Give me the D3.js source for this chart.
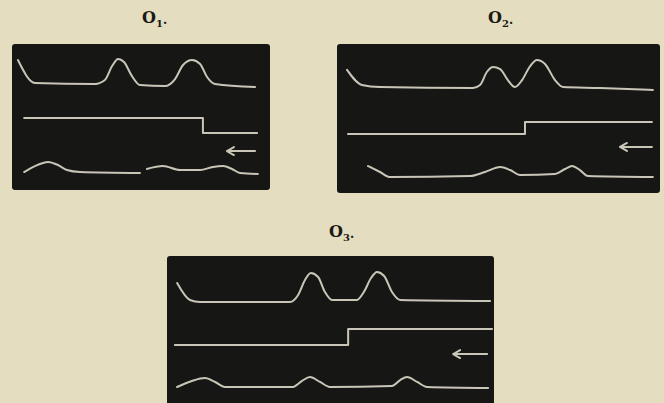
<!DOCTYPE html>
<html>
<head>
<meta charset="utf-8">
<script src="https://cdn.jsdelivr.net/npm/d3@7"></script>
<style>
  body { margin: 0; background: #e4ddbf; }
  svg { display: block; }
  .trace { fill: none; stroke: #c9c6b8; stroke-width: 2; stroke-linejoin: round; stroke-linecap: round; }
  .title { font-family: "DejaVu Serif", "Liberation Serif", serif; font-weight: bold; fill: #1a1a16; }
</style>
</head>
<body>
<div class="container"></div>
<script>
// each record: [time, level] in panel units (0..100 across, 0..100 up)
var o1Top = [[2.3,89],[8.9,73.3],[32.2,72.6],[36,75.3],[38.8,84.9],[41.1,89.7],[43.4,87.7],[46.5,78],[49.6,71.9],[59.3,71.2],[63.2,76],[66.3,85.6],[69.8,89],[72.9,86.3],[75.6,77.4],[78.7,72.6],[94.2,70.5]];
var o1Mid = [[4.7,49.3],[74,49.3],[74,39],[95,39]];
var o1BotA = [[4.7,12.3],[8.9,16.4],[14,19.2],[17.8,17.1],[21.3,13.7],[26.4,12.3],[49.6,11.6]];
var o1BotB = [[52.3,14.4],[58.5,16.4],[65.1,13.7],[72.9,13.7],[77.9,15.8],[81.8,16.4],[85.3,14.4],[88.4,11.6],[95.3,11]];
var o1Arrow = [83.3, 94.2, 26.7];

var o2Top = [[3.1,82.6],[7.7,72.5],[13.3,71.1],[42.1,70.5],[44.3,72.5],[46.4,81.2],[48.3,84.6],[50.5,83.2],[52.9,75.8],[55.1,71.1],[57.3,75.8],[59.8,85.2],[61.9,89.3],[64.4,86.6],[67.5,75.8],[70,71.1],[81.4,70.5],[97.8,69.1]];
var o2Mid = [[3.4,39.6],[58.2,39.6],[58.2,47.7],[97.5,47.7]];
var o2Bot = [[9.6,18.1],[13.3,14.1],[16.4,10.7],[41.2,11.4],[45.8,14.1],[50.5,17.4],[53.6,15.4],[56.7,12.1],[67.5,12.8],[70.6,16.1],[72.8,18.1],[75.2,15.4],[77.7,11.4],[97.8,10.7]];
var o2Arrow = [87.6, 97.5, 30.9];

var o3Top = [[3.1,81.6],[7,70.1],[10.1,68.7],[37.6,68.7],[40.1,73.5],[42.2,83.7],[44,88.4],[46.2,85.7],[48.3,75.5],[50.5,70.1],[58.1,70.1],[60.2,75.5],[62.4,85],[64.2,89.1],[66.4,86.4],[68.8,75.5],[71.3,70.1],[98.8,69.4]];
var o3Mid = [[2.4,39.5],[55.4,39.5],[55.4,50.3],[99.4,50.3]];
var o3Bot = [[3.1,10.9],[7.6,15],[11.6,17],[14.7,14.3],[17.7,10.9],[38.5,10.9],[41.3,15],[43.7,17.7],[46.8,14.3],[49.8,10.9],[68.8,11.6],[71.3,15.6],[73.4,17.7],[76.5,14.3],[79.5,10.9],[98.2,10.2]];
var o3Arrow = [87.5, 97.9, 33.3];

var titles = ["1", "2", "3"];

const WIDTH = 664;
const HEIGHT = 403;

var svg = d3.select('.container').append('svg')
  .attr('width', WIDTH)
  .attr('height', HEIGHT);

svg.append('rect').attr('width', WIDTH).attr('height', HEIGHT).attr('fill', '#e4ddbf');

var panels = [
  {box: [12, 44, 270, 190], curves: [o1Top, o1BotA, o1BotB], steps: [o1Mid], arrow: o1Arrow, title: titles[0], tx: 142, ty: 23},
  {box: [337, 44, 660, 193], curves: [o2Top, o2Bot], steps: [o2Mid], arrow: o2Arrow, title: titles[1], tx: 488, ty: 23},
  {box: [167, 256, 494, 403], curves: [o3Top, o3Bot], steps: [o3Mid], arrow: o3Arrow, title: titles[2], tx: 329, ty: 237}
];

panels.forEach(function(p){
  var b = p.box;
  var x = d3.scaleLinear().domain([0, 100]).range([b[0], b[2]]);
  var y = d3.scaleLinear().domain([0, 100]).range([b[3], b[1]]);

  svg.append('rect')
    .attr('x', b[0]).attr('y', b[1])
    .attr('width', b[2] - b[0]).attr('height', b[3] - b[1] + (b[3] >= HEIGHT ? 5 : 0))
    .attr('rx', 3)
    .attr('fill', '#161615');

  var smooth = d3.line()
    .x(function(d){ return x(d[0]); })
    .y(function(d){ return y(d[1]); })
    .curve(d3.curveMonotoneX);

  var straight = d3.line()
    .x(function(d){ return x(d[0]); })
    .y(function(d){ return y(d[1]); });

  p.curves.forEach(function(c){
    svg.append('path').classed('trace', true).attr('d', smooth(c));
  });
  p.steps.forEach(function(s){
    svg.append('path').classed('trace', true).attr('d', straight(s));
  });

  // arrow pointing left
  var a = p.arrow;
  var ax0 = x(a[0]), ax1 = x(a[1]), ay = y(a[2]);
  svg.append('path').classed('trace', true)
    .attr('d', 'M' + ax1 + ',' + ay + 'L' + ax0 + ',' + ay +
               'M' + (ax0 + 7) + ',' + (ay - 4) + 'L' + ax0 + ',' + ay + 'L' + (ax0 + 7) + ',' + (ay + 4));

  var t = svg.append('text').classed('title', true)
    .attr('x', p.tx).attr('y', p.ty)
    .style('font-size', '16px');
  t.append('tspan').text('O');
  t.append('tspan').attr('dy', 4).style('font-size', '10px').text(p.title);
  t.append('tspan').attr('dy', -3).style('font-size', '12px').text('.');
});
</script>
</body>
</html>
